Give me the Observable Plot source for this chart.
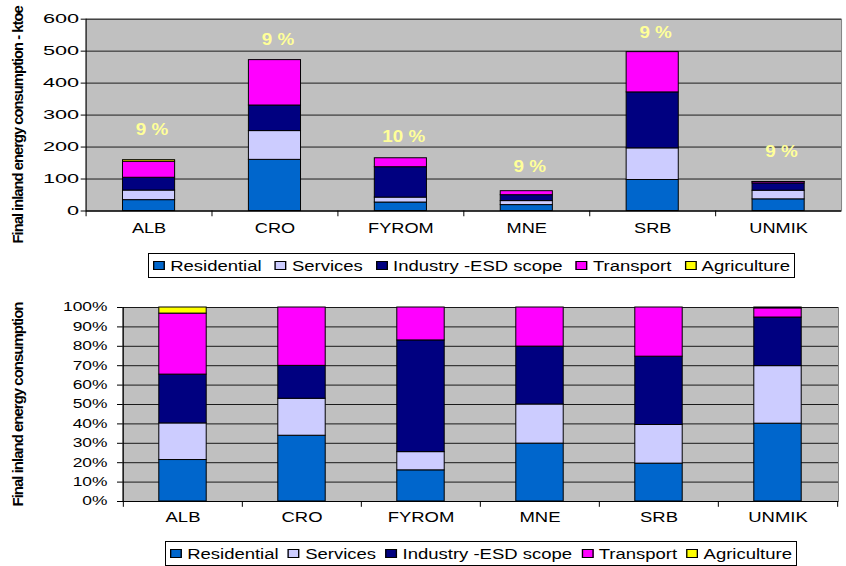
<!DOCTYPE html>
<html><head><meta charset="utf-8">
<script src="https://cdn.jsdelivr.net/npm/d3@7"></script>
<script src="https://cdn.jsdelivr.net/npm/@observablehq/plot@0.6"></script>
<style>
html,body{margin:0;padding:0;background:#fff;overflow:hidden;}
#wrap{position:relative;width:846px;height:566px;overflow:hidden;font-family:"Liberation Sans",Arial,sans-serif;background:#fff;}
.chart{position:absolute;left:0;overflow:visible;}
.legend{position:absolute;box-sizing:border-box;border:1px solid #000;height:25px;background:#fff;}
.legend .inner{position:absolute;top:0;height:23px;display:flex;align-items:center;justify-content:space-between;transform-origin:0 50%;font-size:14px;white-space:nowrap;color:#000;}
.legend .sw{display:inline-block;width:7px;height:7px;border:1px solid #000;margin-right:4px;vertical-align:middle;position:relative;top:-1px;}
g[aria-description="ytitle"] text{letter-spacing:-1px;}
</style></head><body><div id="wrap"></div>
<script>
// ---- data ----
const categories = ["ALB","CRO","FYROM","MNE","SRB","UNMIK"];
const seriesNames = ["Residential","Services","Industry -ESD scope","Transport","Agriculture"];
const seriesColors = ["#0066CC","#CCCCFF","#000080","#FF00FF","#FFFF00"];
const residential = [34, 160, 26.5, 18.5, 97, 36.5];
const services    = [30,  90, 15.5, 12.5, 99, 27];
const industry    = [40,  80, 95,   18.5, 175, 22.8];
const transport   = [50, 142, 28,   12.5, 126, 4.3];
const agriculture = [5,    0,  0,    0,    0,  0.4];
const shareLabels = ["9 %","9 %","10 %","9 %","9 %","9 %"];
const shareLabelY = [252, 535, 233, 138, 557, 185];
const yTicksTop = [0,100,200,300,400,500,600];
const yTicksBottom = [0,0.1,0.2,0.3,0.4,0.5,0.6,0.7,0.8,0.9,1];
const titleTop = "Final inland energy consumption - ktoe";
const titleBottom = "Final inland energy consumption";

const seriesValues = [residential, services, industry, transport, agriculture];
const rows = [];
categories.forEach((c, i) => seriesNames.forEach((s, j) => {
  if (seriesValues[j][i] > 0) rows.push({category: c, series: s, value: seriesValues[j][i]});
}));

const FONT = "'Liberation Sans', Arial, sans-serif";
const wrap = document.getElementById("wrap");

function stretch(svg, sel, s) {
  svg.querySelectorAll(sel).forEach(t => {
    const x = +t.getAttribute("x") || 0, y = +t.getAttribute("y") || 0;
    const tr = t.getAttribute("transform") || "";
    t.setAttribute("transform", `${tr} translate(${x},${y}) scale(${s},1) translate(${-x},${-y})`);
  });
}

// ---- top chart ----
const W1 = 860, H1 = 250, ML1 = 87, MR1 = 5, MT1 = 19, MB1 = 36;
const step1 = (W1 - ML1 - MR1) / categories.length;
const inset1 = step1 * 0.293;
const chartTop = Plot.plot({
  width: W1, height: H1, marginLeft: ML1, marginRight: MR1, marginTop: MT1, marginBottom: MB1,
  style: {fontFamily: FONT, fontSize: "12px", color: "#000", background: "transparent", overflow: "visible"},
  x: {domain: categories, padding: 0, label: null},
  y: {domain: [0, 600], label: null},
  color: {domain: seriesNames, range: seriesColors},
  marks: [
    Plot.frame({fill: "#C0C0C0", stroke: "#808080"}),
    Plot.gridY(yTicksTop, {stroke: "#1a1a1a", strokeOpacity: 1}),
    Plot.barY(rows, {x: "category", y: "value", fill: "series", order: seriesNames, stroke: "#000", strokeWidth: 1, insetLeft: inset1, insetRight: inset1}),
    Plot.ruleY([0], {stroke: "#000"}),
    Plot.ruleX([categories[0]], {dx: -step1 / 2, y1: 0, y2: 600, stroke: "#000"}),
    Plot.ruleX(categories, {dx: -step1 / 2, y1: 0, y2: -18, stroke: "#000"}),
    Plot.axisY(yTicksTop, {tickSize: 5, tickPadding: 2, fontSize: 13, label: null}),
    Plot.axisX({tickSize: 0, tickPadding: 12, fontSize: 14, label: null}),
    Plot.text(categories, {x: d => d, y: (d, i) => shareLabelY[i], text: (d, i) => shareLabels[i], dx: 3, fill: "#FFFF99", fontWeight: "bold", fontSize: 16, ariaDescription: "pct"}),
    Plot.text([titleTop], {frameAnchor: "left", textAnchor: "middle", dx: -69, dy: 10, rotate: -90, fontWeight: "bold", fontSize: 15, ariaDescription: "ytitle"})
  ]
});
chartTop.classList.add("chart");
chartTop.style.top = "0px";
wrap.appendChild(chartTop);
stretch(chartTop, 'g[aria-label="y-axis tick label"] text', 1.7);
stretch(chartTop, 'g[aria-label="x-axis tick label"] text', 1.32);
stretch(chartTop, 'g[aria-description="pct"] text', 1.2);

// ---- bottom chart ----
const W2 = 846, H2 = 258, ML2 = 122, MR2 = 8, MT2 = 27, MB2 = 37;
const step2 = (W2 - ML2 - MR2) / categories.length;
const inset2 = step2 * 0.3;
const chartBottom = Plot.plot({
  width: W2, height: H2, marginLeft: ML2, marginRight: MR2, marginTop: MT2, marginBottom: MB2,
  style: {fontFamily: FONT, fontSize: "12px", color: "#000", background: "transparent", overflow: "visible"},
  x: {domain: categories, padding: 0, label: null},
  y: {domain: [0, 1], label: null},
  color: {domain: seriesNames, range: seriesColors},
  marks: [
    Plot.frame({fill: "#C0C0C0", stroke: "#808080"}),
    Plot.gridY(yTicksBottom, {stroke: "#1a1a1a", strokeOpacity: 1}),
    Plot.barY(rows, {x: "category", y: "value", fill: "series", order: seriesNames, offset: "normalize", stroke: "#000", strokeWidth: 1, insetLeft: inset2, insetRight: inset2}),
    Plot.ruleY([0], {stroke: "#000"}),
    Plot.ruleX([categories[0]], {dx: -step2 / 2, y1: 0, y2: 1, stroke: "#000"}),
    Plot.ruleX(categories, {dx: -step2 / 2, y1: 0, y2: -0.03, stroke: "#000"}),
    Plot.ruleX([categories[categories.length - 1]], {dx: step2 / 2, y1: 0, y2: -0.03, stroke: "#000"}),
    Plot.axisY(yTicksBottom, {tickSize: 5, tickPadding: 10, fontSize: 12, tickFormat: d3.format(".0%"), label: null}),
    Plot.axisX({tickSize: 0, tickPadding: 11, fontSize: 14, label: null}),
    Plot.text([titleBottom], {frameAnchor: "left", textAnchor: "middle", dx: -104, rotate: -90, fontWeight: "bold", fontSize: 15, ariaDescription: "ytitle"})
  ]
});
chartBottom.classList.add("chart");
chartBottom.style.top = "280px";
wrap.appendChild(chartBottom);
stretch(chartBottom, 'g[aria-label="y-axis tick label"] text', 1.45);
stretch(chartBottom, 'g[aria-label="x-axis tick label"] text', 1.32);

// ---- legends ----
function legend(left, topPx, width) {
  const s = 1.32, pad = 4;
  const box = d3.select(wrap).append("div").attr("class", "legend")
    .style("left", left + "px").style("top", topPx + "px").style("width", width + "px");
  const inner = box.append("div").attr("class", "inner")
    .style("left", pad + "px")
    .style("width", ((width - 2 - 2 * pad) / s) + "px")
    .style("transform", `scaleX(${s})`);
  seriesNames.forEach((n, i) => {
    const it = inner.append("span");
    it.append("span").attr("class", "sw").style("background", seriesColors[i]);
    it.append("span").text(n);
  });
}
legend(148, 253, 647);
legend(165, 541, 632);
</script></body></html>
